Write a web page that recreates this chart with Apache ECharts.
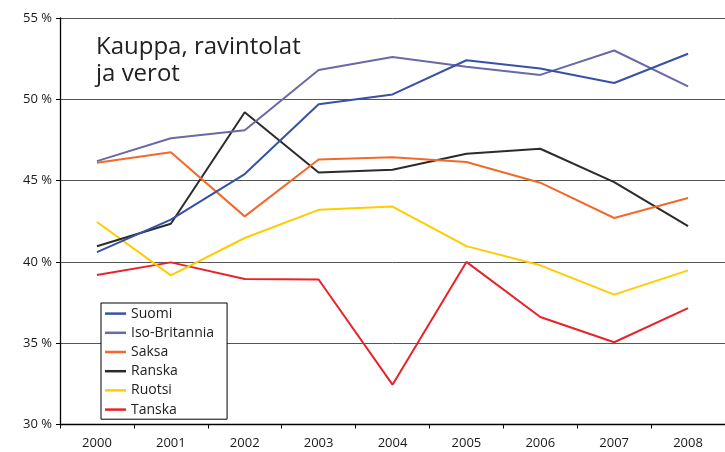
<!DOCTYPE html>
<html>
<head>
<meta charset="utf-8">
<script src="https://cdn.jsdelivr.net/npm/echarts@6/dist/echarts.min.js"></script>
<style>
html,body{margin:0;padding:0;background:#fff;}
#chart{width:725px;height:452px;}
</style>
</head>
<body>
<div id="chart"></div>
<script>
var years = ['2000','2001','2002','2003','2004','2005','2006','2007','2008'];
var suomi =        [40.6, 42.6, 45.4, 49.7, 50.3, 52.4, 51.9, 51.0, 52.8];
var isoBritannia = [46.2, 47.6, 48.1, 51.8, 52.6, 52.0, 51.5, 53.0, 50.8];
var saksa =        [46.1, 46.75, 42.8, 46.3, 46.43, 46.14, 44.87, 42.7, 43.93];
var ranska =       [40.96, 42.35, 49.2, 45.5, 45.67, 46.65, 46.96, 44.91, 42.2];
var ruotsi =       [42.45, 39.17, 41.47, 43.2, 43.4, 40.97, 39.79, 37.99, 39.48];
var tanska =       [39.19, 39.97, 38.95, 38.92, 32.45, 40.0, 36.61, 35.06, 37.16];
var seriesNames = ['Suomi','Iso-Britannia','Saksa','Ranska','Ruotsi','Tanska'];
var seriesData = [suomi, isoBritannia, saksa, ranska, ruotsi, tanska];
var colors = ['#3652a6','#6b69a5','#f26a2a','#2b2b2b','#ffcc00','#e8232a'];
var titleLines = ['Kauppa, ravintolat','ja verot'];
var yTicks = {min:30, max:55, interval:5};

var font = '"Open Sans", "Noto Sans", sans-serif';
var chart = echarts.init(document.getElementById('chart'), null, {renderer:'canvas'});
chart.setOption({
  animation:false,
  backgroundColor:'#fff',
  color: colors,
  grid:{left:60, top:18, width:668, height:406.5, containLabel:false},
  graphic:[{
    type:'text', left:96, top:33,
    style:{text:titleLines.join('\n'), font:'24px ' + font, lineHeight:27.5, fill:'#222'}
  }],
  legend:{
    orient:'vertical', left:101, top:303,
    padding:[1,13,0,4],
    borderColor:'#000', borderWidth:1, backgroundColor:'#fff',
    itemGap:0, itemWidth:21, itemHeight:2.5, itemTextGap:3,
    icon:'rect',
    textStyle:{fontFamily:font, fontSize:14, color:'#222', lineHeight:19.2},
    data: seriesNames
  },
  xAxis:{
    type:'category', data:years, boundaryGap:true,
    axisLine:{lineStyle:{color:'#000', width:1.3}},
    axisTick:{show:true, inside:false, length:4, alignWithLabel:false, lineStyle:{color:'#000'}},
    axisLabel:{fontFamily:font, fontSize:13, color:'#1a1a1a', margin:12},
    splitLine:{show:false}
  },
  yAxis:{
    type:'value', min:yTicks.min, max:yTicks.max, interval:yTicks.interval,
    axisLine:{show:true, lineStyle:{color:'#000', width:1.3}},
    axisTick:{show:true, inside:false, length:4, lineStyle:{color:'#000'}},
    axisLabel:{fontFamily:font, fontSize:13, color:'#1a1a1a', margin:8, formatter:'{value} %'},
    splitLine:{show:true, lineStyle:{color:'#555', width:1}}
  },
  series: seriesNames.map(function(n,i){
    return {name:n, type:'line', data:seriesData[i], symbol:'none',
      lineStyle:{width:2, color:colors[i]}, itemStyle:{color:colors[i]}, z: 10 - i};
  })
});
</script>
</body>
</html>
